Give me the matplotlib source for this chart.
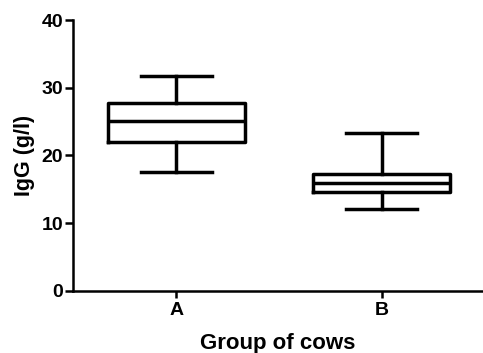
import matplotlib
matplotlib.use("Agg")
import matplotlib.pyplot as plt

plt.rcParams["font.family"] = ["Liberation Sans", "DejaVu Sans"]
plt.rcParams["font.weight"] = "bold"

# Box plot summary
groups = ["A", "B"]
whisker_low = [17.6, 12.1]
q1 = [22.0, 14.6]
median = [25.1, 15.9]
q3 = [27.7, 17.3]
whisker_high = [31.7, 23.3]

stats = []
for i, g in enumerate(groups):
    stats.append({
        "label": g,
        "whislo": whisker_low[i],
        "q1": q1[i],
        "med": median[i],
        "q3": q3[i],
        "whishi": whisker_high[i],
        "fliers": [],
    })

fig = plt.figure(figsize=(4.83, 3.53), dpi=100)
ax = fig.add_axes([0.151, 0.176, 0.849, 0.767])

lw = 2.5
ax.bxp(
    stats,
    positions=[1, 2],
    widths=0.67,
    showfliers=False,
    boxprops=dict(color="black", linewidth=lw, solid_joinstyle="round"),
    medianprops=dict(color="black", linewidth=lw),
    whiskerprops=dict(color="black", linewidth=lw),
    capprops=dict(color="black", linewidth=lw),
    capwidths=0.345,
)

ax.set_xlim(0.495, 2.495)
ax.set_ylim(0, 40)
ax.set_yticks([0, 10, 20, 30, 40])
ax.set_xticks([1, 2])
ax.set_xticklabels(groups)

for s in ["top", "right"]:
    ax.spines[s].set_visible(False)
for s in ["left", "bottom"]:
    ax.spines[s].set_linewidth(1.8)

ax.tick_params(axis="both", direction="out", width=1.8, labelsize=14)
ax.tick_params(axis="y", length=6, pad=1)
ax.tick_params(axis="x", length=5, pad=3)

ax.set_xlabel("Group of cows", fontsize=16, fontweight="bold", labelpad=10)
ax.set_ylabel("IgG (g/l)", fontsize=15.5, fontweight="bold", labelpad=5)

fig.savefig("out.png", dpi=100)
